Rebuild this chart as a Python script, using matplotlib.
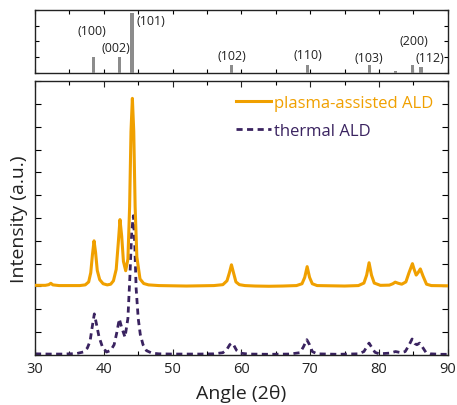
import matplotlib
matplotlib.use("Agg")
import matplotlib.pyplot as plt
from matplotlib.ticker import MultipleLocator

plt.rcParams['font.family'] = ['Open Sans', 'DejaVu Sans']

# Reference sticks (hcp Ru)
ref_labels = ["(100)", "(002)", "(101)", "(102)", "(110)", "(103)", "", "(200)", "(112)"]
ref_pos = [38.5, 42.3, 44.1, 58.5, 69.6, 78.6, 82.4, 84.9, 86.1]
ref_int = [0.25, 0.25, 0.95, 0.12, 0.12, 0.12, 0.03, 0.13, 0.09]

# plasma-assisted ALD curve
pa_x = [30.0, 31.5, 32.0, 32.3, 32.6, 33.5, 35.0, 36.5, 37.3, 37.8, 38.1, 38.35, 38.58, 38.8,
        39.05, 39.4, 39.9, 40.5, 41.0, 41.4, 41.8, 42.1, 42.35, 42.6, 42.85, 43.18, 43.5,
        43.75, 43.95, 44.15, 44.35, 44.55, 44.8, 45.26, 45.8, 46.5, 48.0, 50.0, 52.0, 54.0,
        56.0, 57.3, 57.9, 58.25, 58.55, 58.85, 59.2, 59.7, 60.5, 62.0, 64.0, 66.0, 68.0,
        68.8, 69.2, 69.55, 69.9, 70.3, 71.0, 73.0, 75.0, 77.0, 77.8, 78.2, 78.55, 78.9,
        79.3, 80.2, 81.5, 82.0, 82.35, 82.8, 83.3, 83.9, 84.35, 84.85, 85.1, 85.4, 85.7,
        86.0, 86.4, 86.9, 87.6, 90.0]
pa_y = [3.05, 3.05, 3.08, 3.14, 3.07, 3.04, 3.04, 3.04, 3.07, 3.2, 3.6, 4.4, 5.0, 4.5,
        3.7, 3.3, 3.12, 3.07, 3.1, 3.25, 3.75, 4.9, 5.93, 5.2, 4.1, 3.69, 4.2,
        6.5, 9.8, 11.24, 9.8, 6.5, 4.3, 3.33, 3.13, 3.07, 3.04, 3.03, 3.02, 3.03,
        3.04, 3.08, 3.25, 3.6, 3.95, 3.6, 3.2, 3.08, 3.04, 3.02, 3.01, 3.02, 3.04,
        3.12, 3.4, 3.87, 3.4, 3.12, 3.04, 3.03, 3.02, 3.04, 3.15, 3.5, 4.04, 3.5,
        3.15, 3.05, 3.06, 3.12, 3.19, 3.14, 3.1, 3.2, 3.6, 4.0, 3.75, 3.5, 3.62,
        3.77, 3.45, 3.1, 3.04, 3.03]

# thermal ALD curve
th_x = [30.0, 32.0, 34.0, 36.0, 37.0, 37.6, 38.0, 38.3, 38.62, 38.9, 39.3, 39.8, 40.4,
        41.0, 41.5, 41.9, 42.25, 42.6, 43.08, 43.5, 43.8, 44.05, 44.3, 44.5, 44.7, 45.0,
        45.3, 45.7, 46.2, 47.0, 48.0, 50.0, 52.0, 54.0, 56.0, 57.3, 57.9, 58.3, 58.6,
        58.9, 59.3, 59.8, 61.0, 64.0, 67.0, 68.5, 69.0, 69.5, 69.9, 70.3, 71.0, 74.0,
        77.0, 77.8, 78.2, 78.55, 78.9, 79.4, 80.0, 81.5, 82.4, 83.2, 83.8, 84.3, 84.8,
        85.2, 85.5, 85.9, 86.3, 86.8, 87.5, 89.0, 90.0]
th_y = [0.05, 0.04, 0.04, 0.06, 0.13, 0.3, 0.6, 1.2, 1.8, 1.4, 0.8, 0.35, 0.13,
        0.2, 0.45, 1.0, 1.58, 1.2, 0.78, 1.6, 3.5, 5.4, 6.1, 4.8, 2.9, 1.6,
        0.9, 0.45, 0.19, 0.08, 0.05, 0.04, 0.04, 0.04, 0.05, 0.1, 0.25, 0.45, 0.52,
        0.42, 0.2, 0.08, 0.04, 0.03, 0.04, 0.1, 0.35, 0.67, 0.45, 0.15, 0.05, 0.03,
        0.05, 0.15, 0.35, 0.52, 0.35, 0.12, 0.05, 0.08, 0.15, 0.1, 0.15, 0.4, 0.7,
        0.5, 0.45, 0.52, 0.35, 0.12, 0.05, 0.03, 0.03]

orange = "#F0A000"
purple = "#3A2360"

fig = plt.figure(figsize=(4.57, 4.06), dpi=100)
ax_top = fig.add_axes([0.0766, 0.8177, 0.9034, 0.1553])
ax = fig.add_axes([0.0766, 0.1232, 0.9034, 0.6748])

# top reference panel
ax_top.bar(ref_pos, ref_int, width=0.45, color="#8c8c8c", zorder=3)
label_xy = [(38.3, 0.67), (41.8, 0.41), (46.8, 0.84), (58.6, 0.27), (69.7, 0.30),
            (78.5, 0.25), (0, 0), (85.1, 0.52), (87.4, 0.25)]
for lab, (lx, ly) in zip(ref_labels, label_xy):
    if lab:
        ax_top.text(lx, ly, lab, ha="center", va="center", fontsize=9, color="#222222")
ax_top.set_xlim(30, 90)
ax_top.set_ylim(0, 1)
ax_top.xaxis.set_major_locator(MultipleLocator(5))
ax_top.yaxis.set_major_locator(MultipleLocator(0.25))
ax_top.tick_params(direction="in", top=True, right=True, labelbottom=False,
                   labelleft=False, length=3, width=0.8)

# main panel
ax.plot(pa_x, pa_y, color=orange, lw=2.2, label="plasma-assisted ALD", zorder=3)
ax.plot(th_x, th_y, color=purple, lw=2.0, ls=(0, (2.2, 1.6)), label="thermal ALD", zorder=2)
ax.set_xlim(30, 90)
ax.set_ylim(0, 12)
ax.xaxis.set_major_locator(MultipleLocator(10))
ax.xaxis.set_minor_locator(MultipleLocator(5))
ax.yaxis.set_major_locator(MultipleLocator(1))
ax.tick_params(which="major", direction="in", top=True, right=True, length=4, width=0.8,
               labelsize=10.5, labelleft=False)
ax.tick_params(which="minor", direction="in", top=True, right=True, length=3, width=0.8)
ax.tick_params(axis="x", pad=4, colors="#222222")
ax.set_xlabel("Angle (2θ)", fontsize=14, color="#222222", labelpad=6)
ax.set_ylabel("Intensity (a.u.)", fontsize=14, color="#222222", labelpad=5)
for a in (ax, ax_top):
    for s in a.spines.values():
        s.set_linewidth(1.0)
        s.set_color("#222222")

leg = ax.legend(loc="upper right", frameon=False, fontsize=12, handlelength=2.1,
                handletextpad=0.15, borderaxespad=0.5, labelspacing=0.75,
                bbox_to_anchor=(1.0, 1.005))
for t, c in zip(leg.get_texts(), [orange, purple]):
    t.set_color(c)

fig.savefig("out.png", dpi=100)
